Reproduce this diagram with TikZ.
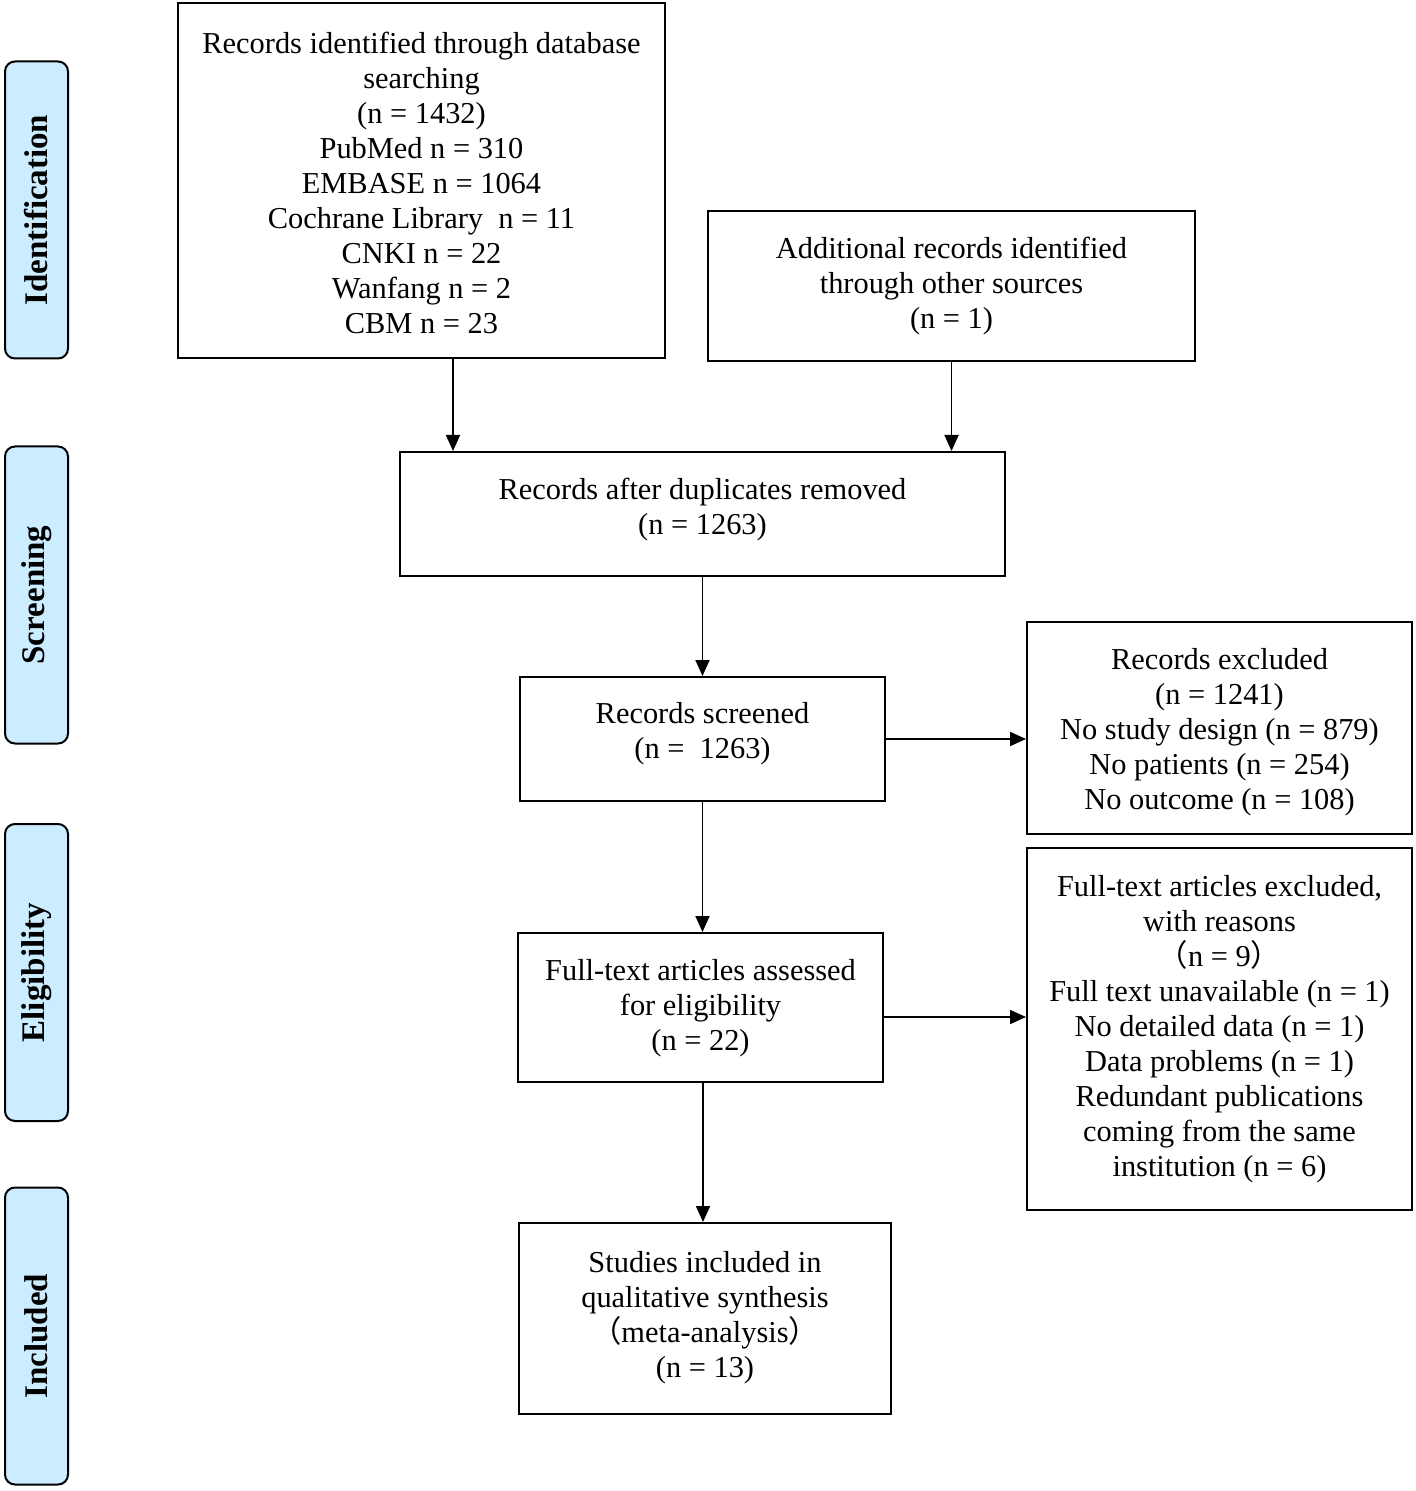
\documentclass[tikz,border=0pt]{standalone}
\usepackage{fontspec}
\setmainfont{Liberation Serif}
\newfontfamily\cjk{Noto Sans CJK SC}
\usetikzlibrary{arrows.meta}
\definecolor{sidefill}{RGB}{204,236,255}
\tikzset{
  box/.style={draw=black, line width=1pt, inner sep=0pt},
  txt/.style={align=center, inner sep=0pt, font=\fontsize{15.2}{17.5}\selectfont},
  side/.style={draw=black, line width=1pt, fill=sidefill, rounded corners=5pt,
    minimum width=31.5pt, minimum height=148.5pt, inner sep=0pt},
  sidetext/.style={rotate=90, font=\fontsize{16.5}{19}\selectfont\bfseries},
  arr/.style={line width=0.9pt, -{Triangle[width=7pt,length=8pt]}}
}
\begin{document}
\begin{tikzpicture}[x=0.5pt,y=-0.5pt]
\useasboundingbox (0,0) rectangle (1416,1491);
% side labels
\node[side] (s1) at (36.5,210) {};
\node[sidetext] (t1) at (s1.center) {Identification};
\node[side] (s2) at (36.5,595) {};
\node[sidetext] (t2) at (s2.center) {Screening};
\node[side] (s3) at (36.5,972.5) {};
\node[sidetext] (t3) at (s3.center) {Eligibility};
\node[side] (s4) at (36.5,1336) {};
\node[sidetext] (t4) at (s4.center) {Included};
% boxes
\node[box, minimum width=243.5pt, minimum height=177.5pt] (b1) at (421.5,180.5) {};
\node[txt] (x1) at (421.5,182.5)
  {Records identified through database\\searching\\(n = 1432)\\PubMed n = 310\\EMBASE n = 1064\\Cochrane Library\ \ n = 11\\CNKI n = 22\\Wanfang n = 2\\CBM n = 23};
\node[box, minimum width=243.5pt, minimum height=75pt] (b2) at (951.5,286) {};
\node[txt] (x2) at (951.5,286)
  {Additional records identified\\through other sources\\(n = 1)};
\node[box, minimum width=302.5pt, minimum height=62pt] (b3) at (702.5,514) {};
\node[txt] (x3) at (702.5,509.5)
  {Records after duplicates removed\\(n = 1263)};
\node[box, minimum width=182.5pt, minimum height=62pt] (b4) at (702.5,739) {};
\node[txt] (x4) at (702.5,733.5)
  {Records screened\\(n = \ 1263)};
\node[box, minimum width=192.5pt, minimum height=106pt] (b5) at (1219.5,728) {};
\node[txt] (x5) at (1219.5,732)
  {Records excluded\\(n = 1241)\\No study design (n = 879)\\No patients (n = 254)\\No outcome (n = 108)};
\node[box, minimum width=182.5pt, minimum height=74.5pt] (b6) at (700.5,1007.5) {};
\node[txt] (x6) at (700.5,1008)
  {Full-text articles assessed\\for eligibility\\(n = 22)};
\node[box, minimum width=192.5pt, minimum height=181pt] (b7) at (1219.5,1029) {};
\node[txt] (x7) at (1219.5,1029.5)
  {Full-text articles excluded,\\with reasons\\{\cjk （}n = 9{\cjk ）}\\Full text unavailable (n = 1)\\No detailed data (n = 1)\\Data problems (n = 1)\\Redundant publications\\coming from the same\\institution (n = 6)};
\node[box, minimum width=186pt, minimum height=95.5pt] (b8) at (705,1318.5) {};
\node[txt] (x8) at (705,1318)
  {Studies included in\\qualitative synthesis\\{\cjk （}meta-analysis{\cjk ）}\\(n = 13)};
% connectors
\coordinate (c1) at (453,0);
\coordinate (c2) at (0,1017);
\coordinate (c3) at (703,0);
\draw[arr] (b1.south -| c1) -- (b3.north -| c1);
\draw[arr] (b2.south) -- (b2.south |- b3.north);
\draw[arr] (b3.south) -- (b4.north);
\draw[arr] (b4.east) -- (b4.east -| b5.west);
\draw[arr] (b4.south) -- (b4.south |- b6.north);
\draw[arr] (b6.east |- c2) -- (b7.west |- c2);
\draw[arr] (b6.south -| c3) -- (b8.north -| c3);
\end{tikzpicture}
\end{document}
